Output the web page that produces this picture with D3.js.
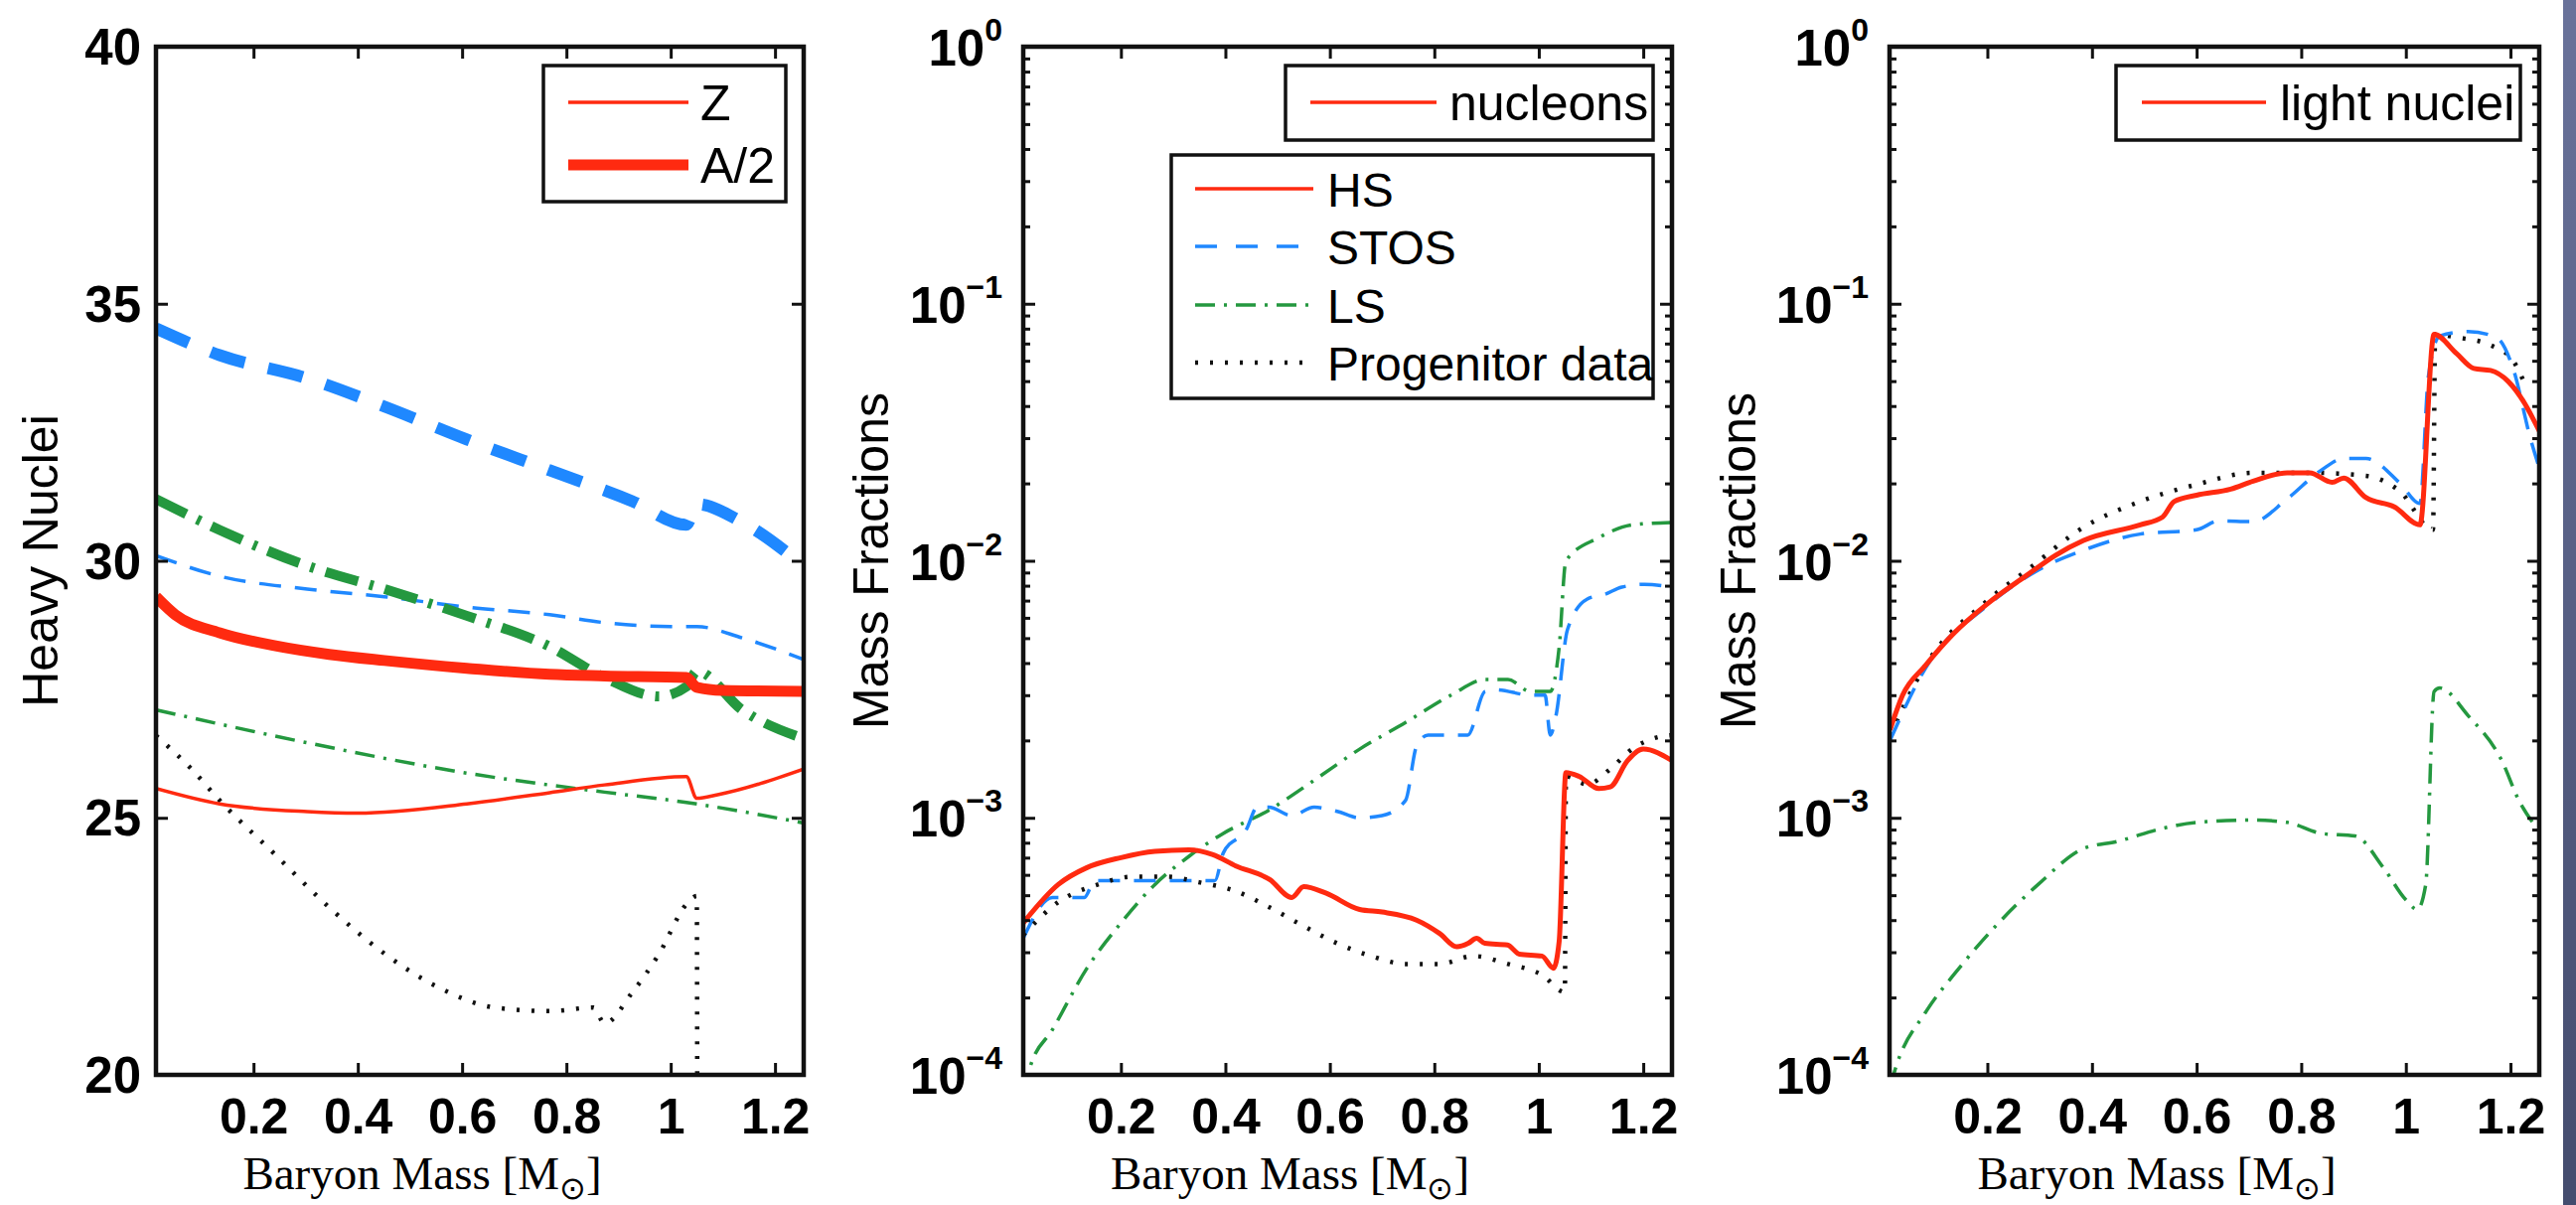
<!DOCTYPE html>
<html>
<head>
<meta charset="utf-8">
<script src="https://cdn.jsdelivr.net/npm/d3@7"></script>
<style>
  html, body { margin: 0; padding: 0; background: #fff; }
  svg { display: block; }
</style>
</head>
<body>
<svg id="fig" width="2593" height="1213"></svg>
<script>
// ---- data ----
const massDomain = [0.013, 1.255];
const massTicks = [0.2, 0.4, 0.6, 0.8, 1, 1.2];
const heavyDomain = [20, 40];
const heavyTicks = [20, 25, 30, 35, 40];
const fracDomain = [1e-4, 1];
const fracTicks = [1e-4, 1e-3, 1e-2, 1e-1, 1];
const fracTickExps = ["\u22124", "\u22123", "\u22122", "\u22121", "0"];

// panel 1: heavy nuclei, Z (thin) and A/2 (thick)
const hsZ = [[0.013,25.57],[0.135,25.27],[0.303,25.12],[0.4,25.09],[0.609,25.27],[0.768,25.49],[0.873,25.64],[1.03,25.8],[1.05,25.38],[1.09,25.45],[1.255,25.95]];
const hsA2 = [[0.013,29.3],[0.05,28.95],[0.135,28.6],[0.24,28.35],[0.345,28.18],[0.451,28.06],[0.609,27.91],[0.768,27.79],[0.873,27.76],[1.03,27.73],[1.05,27.54],[1.1,27.48],[1.255,27.46]];
const stosZ = [[0.013,30.1],[0.135,29.7],[0.303,29.45],[0.451,29.3],[0.609,29.1],[0.768,28.95],[0.87,28.8],[1.0,28.72],[1.05,28.72],[1.137,28.5],[1.255,28.08]];
const stosA2 = [[0.013,34.52],[0.135,34.0],[0.303,33.55],[0.451,33.0],[0.609,32.36],[0.768,31.76],[0.926,31.16],[1.03,30.7],[1.05,31.1],[1.137,30.75],[1.255,29.9]];
const lsZ = [[0.013,27.1],[0.303,26.46],[0.609,25.87],[0.873,25.5],[1.03,25.3],[1.255,24.9]];
const lsA2 = [[0.013,31.2],[0.135,30.6],[0.303,29.9],[0.451,29.45],[0.609,28.93],[0.768,28.33],[0.873,27.73],[0.978,27.36],[1.03,27.55],[1.05,27.85],[1.137,27.1],[1.255,26.54]];
const progHeavy = [[0.013,26.6],[0.082,25.94],[0.135,25.34],[0.24,24.3],[0.346,23.25],[0.451,22.36],[0.557,21.69],[0.662,21.31],[0.768,21.24],[0.852,21.31],[0.873,21.0],[0.926,21.6],[0.978,22.36],[1.031,23.33],[1.05,23.48],[1.051,19.0]];

// panel 2: nucleons
const hsNucleons = [[0.013,3.9e-4],[0.08,5.5e-4],[0.135,6.4e-4],[0.2,7.0e-4],[0.265,7.4e-4],[0.33,7.5e-4],[0.375,7.2e-4],[0.42,6.5e-4],[0.485,5.75e-4],[0.527,4.9e-4],[0.55,5.4e-4],[0.592,5.1e-4],[0.657,4.4e-4],[0.70,4.3e-4],[0.766,4.0e-4],[0.81,3.55e-4],[0.843,3.15e-4],[0.865,3.25e-4],[0.881,3.4e-4],[0.897,3.25e-4],[0.94,3.2e-4],[0.963,2.95e-4],[1.006,2.9e-4],[1.028,2.6e-4],[1.039,3.3e-4],[1.052,1.5e-3],[1.077,1.45e-3],[1.115,1.3e-3],[1.137,1.32e-3],[1.17,1.67e-3],[1.2,1.85e-3],[1.255,1.67e-3]];
const stosNucleons = [[0.013,3.4e-4],[0.069,4.9e-4],[0.13,4.9e-4],[0.15,5.7e-4],[0.38,5.7e-4],[0.396,7.3e-4],[0.44,9.0e-4],[0.461,1.1e-3],[0.483,1.1e-3],[0.527,1.02e-3],[0.57,1.1e-3],[0.614,1.06e-3],[0.657,1.0e-3],[0.70,1.02e-3],[0.745,1.17e-3],[0.766,1.9e-3],[0.788,2.1e-3],[0.864,2.1e-3],[0.897,3.1e-3],[0.919,3.15e-3],[0.984,3.0e-3],[1.012,3.0e-3],[1.022,2.1e-3],[1.033,2.5e-3],[1.055,5.4e-3],[1.093,7.1e-3],[1.126,7.4e-3],[1.159,7.9e-3],[1.202,8.1e-3],[1.255,7.9e-3]];
const lsNucleons = [[0.013,8.5e-5],[0.026,1.07e-4],[0.069,1.5e-4],[0.135,2.6e-4],[0.2,3.9e-4],[0.265,5.5e-4],[0.331,7.1e-4],[0.396,8.7e-4],[0.483,1.07e-3],[0.57,1.4e-3],[0.657,1.85e-3],[0.745,2.35e-3],[0.832,3.0e-3],[0.897,3.45e-3],[0.941,3.45e-3],[0.984,3.1e-3],[1.022,3.1e-3],[1.039,4.6e-3],[1.052,1.0e-2],[1.115,1.23e-2],[1.18,1.38e-2],[1.255,1.41e-2]];
const progNucleons = [[0.013,3.5e-4],[0.08,4.7e-4],[0.156,5.5e-4],[0.222,5.9e-4],[0.287,5.9e-4],[0.352,5.6e-4],[0.418,5.2e-4],[0.483,4.5e-4],[0.549,3.8e-4],[0.614,3.25e-4],[0.679,2.9e-4],[0.745,2.7e-4],[0.81,2.7e-4],[0.875,2.9e-4],[0.941,2.7e-4],[1.006,2.45e-4],[1.05,2.1e-4],[1.052,1.45e-3],[1.093,1.35e-3],[1.137,1.55e-3],[1.18,1.86e-3],[1.224,2.05e-3],[1.255,2.1e-3]];

// panel 3: light nuclei
const hsLight = [[0.014,2.2e-3],[0.038,3.0e-3],[0.081,3.9e-3],[0.135,5.2e-3],[0.2,6.8e-3],[0.276,8.8e-3],[0.33,1.05e-2],[0.384,1.2e-2],[0.492,1.38e-2],[0.535,1.48e-2],[0.557,1.7e-2],[0.6,1.8e-2],[0.665,1.9e-2],[0.708,2.04e-2],[0.773,2.2e-2],[0.816,2.2e-2],[0.859,2.02e-2],[0.881,2.1e-2],[0.924,1.76e-2],[0.978,1.62e-2],[1.027,1.38e-2],[1.054,7.6e-2],[1.097,6.4e-2],[1.13,5.6e-2],[1.162,5.5e-2],[1.195,5.0e-2],[1.227,4.1e-2],[1.255,3.2e-2]];
const stosLight = [[0.014,2.0e-3],[0.081,3.8e-3],[0.2,6.7e-3],[0.297,9.2e-3],[0.384,1.1e-2],[0.492,1.27e-2],[0.6,1.32e-2],[0.643,1.43e-2],[0.708,1.42e-2],[0.773,1.74e-2],[0.838,2.25e-2],[0.881,2.5e-2],[0.924,2.5e-2],[0.989,2.0e-2],[1.027,1.67e-2],[1.043,5.2e-2],[1.065,7.5e-2],[1.119,7.8e-2],[1.173,7.4e-2],[1.205,5.6e-2],[1.238,3.0e-2],[1.255,2.3e-2]];
const lsLight = [[0.014,9.0e-5],[0.027,1.1e-4],[0.081,1.74e-4],[0.146,2.6e-4],[0.211,3.7e-4],[0.297,5.5e-4],[0.384,7.6e-4],[0.449,8.1e-4],[0.535,9.1e-4],[0.6,9.6e-4],[0.708,9.8e-4],[0.773,9.6e-4],[0.838,8.7e-4],[0.903,8.5e-4],[0.957,6.4e-4],[1.0,4.8e-4],[1.022,4.4e-4],[1.038,5.5e-4],[1.054,3.1e-3],[1.065,3.2e-3],[1.119,2.5e-3],[1.184,1.66e-3],[1.216,1.17e-3],[1.255,8.9e-4]];
const progLight = [[0.014,2.1e-3],[0.081,3.9e-3],[0.2,7.0e-3],[0.276,9.2e-3],[0.384,1.35e-2],[0.492,1.7e-2],[0.6,1.98e-2],[0.708,2.2e-2],[0.816,2.2e-2],[0.924,2.14e-2],[0.989,1.86e-2],[1.052,1.32e-2],[1.056,7.6e-2],[1.097,7.4e-2],[1.162,6.9e-2],[1.205,6.0e-2],[1.227,4.9e-2]];

// ---- styles ----
const RED = "#ff2a10", BLUE = "#1f88ff", GREEN = "#24983f", BLACK = "#111";
const styles = {
  hsThin:   { stroke: RED,   width: 3.5, dash: null },
  hsMid:    { stroke: RED,   width: 5,   dash: null },
  hsThick:  { stroke: RED,   width: 11,  dash: null },
  stosThin: { stroke: BLUE,  width: 3.5, dash: "22,14" },
  stosThick:{ stroke: BLUE,  width: 12,  dash: "36,24" },
  lsThin:   { stroke: GREEN, width: 3.5, dash: "20,9,3,9" },
  lsThick:  { stroke: GREEN, width: 10,  dash: "34,12,4,12" },
  prog:     { stroke: BLACK, width: 4.5, dash: "3,12" }
};

const TOP = 47, BOTTOM = 1082;
const svg = d3.select("#fig");

// slide shadow at the right edge
const defs = svg.append("defs");
const grad = defs.append("linearGradient").attr("id", "edge").attr("x1", 0).attr("x2", 0).attr("y1", 0).attr("y2", 1);
grad.append("stop").attr("offset", "0%").attr("stop-color", "#69729a");
grad.append("stop").attr("offset", "100%").attr("stop-color", "#444c6e");
svg.append("rect").attr("x", 2580).attr("y", 0).attr("width", 13).attr("height", 1213).attr("fill", "url(#edge)");

function drawPanel(cfg, idx) {
  const g = svg.append("g");
  const x = d3.scaleLinear().domain(massDomain).range([cfg.left, cfg.right]);
  const y = cfg.log
    ? d3.scaleLog().domain(fracDomain).range([BOTTOM, TOP])
    : d3.scaleLinear().domain(heavyDomain).range([BOTTOM, TOP]);

  defs.append("clipPath").attr("id", "clip" + idx)
    .append("rect").attr("x", cfg.left).attr("y", TOP)
    .attr("width", cfg.right - cfg.left).attr("height", BOTTOM - TOP);

  const line = d3.line().x(d => x(d[0])).y(d => y(d[1])).curve(d3.curveMonotoneX);
  const plot = g.append("g").attr("clip-path", `url(#clip${idx})`);
  cfg.series.forEach(s => {
    const st = styles[s.style];
    plot.append("path").datum(s.data)
      .attr("d", line)
      .attr("fill", "none")
      .attr("stroke", st.stroke)
      .attr("stroke-width", st.width)
      .attr("stroke-dasharray", st.dash)
      .attr("stroke-linejoin", "round");
  });

  // x ticks (inside, top and bottom)
  const xb = g.append("g").attr("transform", `translate(0,${BOTTOM})`)
    .call(d3.axisBottom(x).tickValues(massTicks).tickSizeInner(-12).tickSizeOuter(0)
      .tickPadding(23).tickFormat(d3.format("")));
  const xt = g.append("g").attr("transform", `translate(0,${TOP})`)
    .call(d3.axisTop(x).tickValues(massTicks).tickSizeInner(-12).tickSizeOuter(0).tickFormat(""));
  [xb, xt].forEach(a => {
    a.select(".domain").remove();
    a.selectAll("line").attr("stroke", "#111").attr("stroke-width", 3);
  });
  xb.selectAll("text").attr("font-family", "Liberation Sans, Arial, sans-serif")
    .attr("font-weight", "bold").attr("font-size", 50).attr("fill", "#000");

  // y ticks
  let majors, minors = [];
  if (cfg.log) {
    majors = fracTicks;
    for (let e = -4; e < 0; e++) for (let m = 2; m <= 9; m++) minors.push(m * Math.pow(10, e));
  } else {
    majors = heavyTicks;
  }
  const yl = g.append("g").attr("transform", `translate(${cfg.left},0)`)
    .call(d3.axisLeft(y).tickValues(majors).tickSizeInner(-12).tickSizeOuter(0).tickFormat(""));
  const yr = g.append("g").attr("transform", `translate(${cfg.right},0)`)
    .call(d3.axisRight(y).tickValues(majors).tickSizeInner(-12).tickSizeOuter(0).tickFormat(""));
  const ylm = g.append("g").attr("transform", `translate(${cfg.left},0)`)
    .call(d3.axisLeft(y).tickValues(minors).tickSizeInner(-7).tickSizeOuter(0).tickFormat(""));
  const yrm = g.append("g").attr("transform", `translate(${cfg.right},0)`)
    .call(d3.axisRight(y).tickValues(minors).tickSizeInner(-7).tickSizeOuter(0).tickFormat(""));
  [yl, yr, ylm, yrm].forEach(a => {
    a.select(".domain").remove();
    a.selectAll("line").attr("stroke", "#111").attr("stroke-width", 3);
  });

  // y tick labels
  if (cfg.log) {
    const lab = g.selectAll(".ylab").data(majors.map((v, i) => ({ v, e: fracTickExps[i] })))
      .enter().append("text")
      .attr("x", cfg.left - 21)
      .attr("y", d => y(d.v) + 19)
      .attr("text-anchor", "end")
      .attr("font-family", "Liberation Sans, Arial, sans-serif")
      .attr("font-weight", "bold").attr("fill", "#000");
    lab.append("tspan").attr("font-size", 51).text("10");
    lab.append("tspan").attr("font-size", 32).attr("dy", -25).text(d => d.e);
  } else {
    g.selectAll(".ylab").data(majors).enter().append("text")
      .attr("x", cfg.left - 15)
      .attr("y", d => y(d) + 18)
      .attr("text-anchor", "end")
      .attr("font-family", "Liberation Sans, Arial, sans-serif")
      .attr("font-weight", "bold").attr("font-size", 51).attr("fill", "#000")
      .text(d => d);
  }

  // frame
  g.append("rect").attr("x", cfg.left).attr("y", TOP)
    .attr("width", cfg.right - cfg.left).attr("height", BOTTOM - TOP)
    .attr("fill", "none").attr("stroke", "#111").attr("stroke-width", 4.5);

  // axis titles
  g.append("text")
    .attr("transform", `translate(${cfg.ylabX},${(TOP + BOTTOM) / 2}) rotate(-90)`)
    .attr("text-anchor", "middle")
    .attr("font-family", "Liberation Sans, Arial, sans-serif")
    .attr("font-size", 50).attr("fill", "#000")
    .text(cfg.ylabel);

  const xl = g.append("text")
    .attr("x", (cfg.left + cfg.right) / 2 - 58).attr("y", 1197)
    .attr("text-anchor", "middle")
    .attr("font-family", "Liberation Serif, Times New Roman, serif")
    .attr("font-size", 47).attr("fill", "#000");
  xl.append("tspan").text("Baryon Mass [M");
  xl.append("tspan").attr("font-size", 32).attr("dy", 10).text("\u2299");
  xl.append("tspan").attr("dy", -10).text("]");

  // legends
  cfg.legends.forEach(L => {
    g.append("rect").attr("x", L.box[0]).attr("y", L.box[1])
      .attr("width", L.box[2] - L.box[0]).attr("height", L.box[3] - L.box[1])
      .attr("fill", "#fff").attr("stroke", "#111").attr("stroke-width", 3.5);
    L.items.forEach(it => {
      const st = styles[it.style];
      g.append("line").attr("x1", L.line[0]).attr("x2", L.line[1])
        .attr("y1", it.y).attr("y2", it.y)
        .attr("stroke", st.stroke).attr("stroke-width", Math.min(st.width, 11))
        .attr("stroke-dasharray", it.style === "stosThin" ? "22,19" : st.dash);
      g.append("text").attr("x", L.text).attr("y", it.y + 18)
        .attr("font-family", "Liberation Sans, Arial, sans-serif")
        .attr("font-size", L.size).attr("fill", "#000")
        .text(it.label);
    });
  });
}

const panels = [
  {
    left: 157, right: 809, log: false, ylabel: "Heavy Nuclei", ylabX: 58,
    series: [
      { data: stosA2, style: "stosThick" },
      { data: stosZ, style: "stosThin" },
      { data: lsA2, style: "lsThick" },
      { data: lsZ, style: "lsThin" },
      { data: progHeavy, style: "prog" },
      { data: hsA2, style: "hsThick" },
      { data: hsZ, style: "hsThin" }
    ],
    legends: [
      { box: [547, 66, 791, 203], line: [572, 693], text: 705, size: 50,
        items: [{ label: "Z", style: "hsThin", y: 103 }, { label: "A/2", style: "hsThick", y: 166 }] }
    ]
  },
  {
    left: 1030, right: 1683, log: true, ylabel: "Mass Fractions", ylabX: 894,
    series: [
      { data: lsNucleons, style: "lsThin" },
      { data: stosNucleons, style: "stosThin" },
      { data: progNucleons, style: "prog" },
      { data: hsNucleons, style: "hsMid" }
    ],
    legends: [
      { box: [1294, 66, 1664, 141], line: [1319, 1446], text: 1459, size: 50,
        items: [{ label: "nucleons", style: "hsThin", y: 103 }] },
      { box: [1179, 156, 1664, 401], line: [1203, 1322], text: 1336, size: 48,
        items: [
          { label: "HS", style: "hsThin", y: 190 },
          { label: "STOS", style: "stosThin", y: 248 },
          { label: "LS", style: "lsThin", y: 307 },
          { label: "Progenitor data", style: "prog", y: 365 }
        ] }
    ]
  },
  {
    left: 1902, right: 2556, log: true, ylabel: "Mass Fractions", ylabX: 1767,
    series: [
      { data: lsLight, style: "lsThin" },
      { data: progLight, style: "prog" },
      { data: stosLight, style: "stosThin" },
      { data: hsLight, style: "hsMid" }
    ],
    legends: [
      { box: [2130, 66, 2537, 141], line: [2156, 2281], text: 2295, size: 50,
        items: [{ label: "light nuclei", style: "hsThin", y: 103 }] }
    ]
  }
];

panels.forEach((p, i) => drawPanel(p, i));
</script>
</body>
</html>
